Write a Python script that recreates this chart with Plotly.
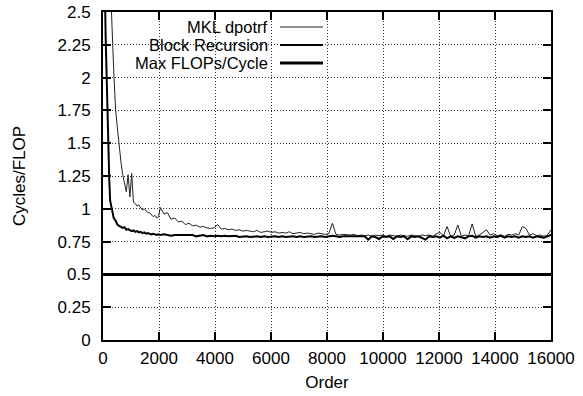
import plotly.graph_objects as go

# ---------------- data ----------------
orders = [
    32, 64, 96, 128, 160, 192, 224, 256,
    320, 384, 448, 512, 576, 640, 704, 768,
    832, 896, 960, 1024, 1088, 1152, 1216, 1280,
    1344, 1408, 1472, 1536, 1600, 1664, 1728, 1792,
    1856, 1920, 1984,
    2048, 2176, 2304, 2432, 2560, 2688, 2816, 2944,
    3072, 3200, 3328, 3456, 3584, 3712, 3840, 3968,
    4096, 4224, 4352, 4480, 4608, 4736, 4864, 4992,
    5120, 5248, 5376, 5504, 5632, 5760, 5888, 6016,
    6144, 6272, 6400, 6528, 6656, 6784, 6912, 7040,
    7168, 7296, 7424, 7552, 7680, 7808, 7936, 8064,
    8192, 8320, 8448, 8576, 8704, 8832, 8960, 9088,
    9216, 9344, 9472, 9600, 9728, 9856, 9984, 10112,
    10240, 10368, 10496, 10624, 10752, 10880, 11008, 11136,
    11264, 11392, 11520, 11648, 11776, 11904, 12032, 12160,
    12288, 12416, 12544, 12672, 12800, 12928, 13056, 13184,
    13312, 13440, 13568, 13696, 13824, 13952, 14080, 14208,
    14336, 14464, 14592, 14720, 14848, 14976, 15104, 15232,
    15360, 15488, 15616, 15744, 15872, 16000,
]

mkl_dpotrf = [
    14.0, 7.5, 5.2, 4.2, 3.6, 3.2, 2.95, 2.75,
    2.40, 2.05, 1.76, 1.62, 1.48, 1.36, 1.26, 1.19,
    1.13, 1.26, 1.09, 1.27, 1.05, 1.04, 1.02, 1.03,
    1.01, 0.99, 1.00, 0.98, 0.97, 0.97, 0.95, 0.94,
    0.95, 0.93, 0.94,
    1.01, 0.96, 0.97, 0.92, 0.93, 0.90, 0.905, 0.88,
    0.89, 0.87, 0.875, 0.86, 0.865, 0.855, 0.85, 0.855,
    0.88, 0.845, 0.85, 0.84, 0.845, 0.835, 0.84, 0.83,
    0.835, 0.83, 0.825, 0.835, 0.82, 0.825, 0.83, 0.82,
    0.825, 0.815, 0.82, 0.815, 0.825, 0.81, 0.815, 0.82,
    0.81, 0.815, 0.81, 0.805, 0.815, 0.81, 0.805, 0.81,
    0.89, 0.805, 0.80, 0.805, 0.80, 0.80, 0.805, 0.795,
    0.80, 0.795, 0.80, 0.79, 0.80, 0.795, 0.80, 0.79,
    0.80, 0.795, 0.79, 0.80, 0.795, 0.79, 0.80, 0.795,
    0.79, 0.80, 0.795, 0.80, 0.79, 0.81, 0.82, 0.795,
    0.865, 0.79, 0.80, 0.877, 0.79, 0.80, 0.795, 0.885,
    0.79, 0.80, 0.82, 0.84, 0.80, 0.81, 0.795, 0.80,
    0.79, 0.805, 0.80, 0.81, 0.80, 0.865, 0.85, 0.80,
    0.81, 0.795, 0.80, 0.79, 0.80, 0.84,
]

block_recursion = [
    5.5, 2.7, 2.3, 2.0, 1.7, 1.45, 1.22, 1.06,
    0.98, 0.93, 0.91, 0.88, 0.87, 0.86, 0.855, 0.86,
    0.84, 0.845, 0.835, 0.83, 0.835, 0.825, 0.83, 0.82,
    0.825, 0.815, 0.82, 0.81, 0.815, 0.81, 0.805, 0.81,
    0.805, 0.80, 0.805,
    0.80, 0.805, 0.80, 0.795, 0.80, 0.80, 0.795, 0.80,
    0.795, 0.80, 0.79, 0.795, 0.80, 0.79, 0.795, 0.79,
    0.795, 0.79, 0.795, 0.79, 0.79, 0.795, 0.785, 0.79,
    0.79, 0.785, 0.79, 0.79, 0.785, 0.79, 0.785, 0.79,
    0.79, 0.785, 0.79, 0.785, 0.79, 0.79, 0.785, 0.79,
    0.785, 0.79, 0.79, 0.785, 0.79, 0.79, 0.785, 0.79,
    0.795, 0.79, 0.785, 0.79, 0.79, 0.785, 0.79, 0.79,
    0.785, 0.79, 0.765, 0.79, 0.785, 0.77, 0.79, 0.785,
    0.79, 0.77, 0.79, 0.785, 0.79, 0.768, 0.79, 0.785,
    0.79, 0.775, 0.765, 0.79, 0.785, 0.79, 0.78, 0.795,
    0.775, 0.79, 0.778, 0.79, 0.785, 0.775, 0.79, 0.795,
    0.78, 0.79, 0.785, 0.79, 0.78, 0.79, 0.785, 0.795,
    0.78, 0.79, 0.785, 0.79, 0.78, 0.79, 0.785, 0.79,
    0.78, 0.79, 0.785, 0.78, 0.79, 0.80,
]

max_orders = [0, 16000]
max_flops_cycle = [0.5, 0.5]

y_tick_vals = [0, 0.25, 0.5, 0.75, 1, 1.25, 1.5, 1.75, 2, 2.25, 2.5]
y_tick_text = ["0", "0.25", "0.5", "0.75", "1", "1.25", "1.5", "1.75", "2", "2.25", "2.5"]
x_tick_vals = [0, 2000, 4000, 6000, 8000, 10000, 12000, 14000, 16000]
x_tick_text = ["0", "2000", "4000", "6000", "8000", "10000", "12000", "14000", "16000"]

series_names = ["MKL dpotrf", "Block Recursion", "Max FLOPs/Cycle"]
series_widths = [1, 2, 3]
series_colors = ["#222222", "#000000", "#000000"]

assert len(orders) == len(mkl_dpotrf) == len(block_recursion)

# ---------------- figure ----------------
FONT = "Liberation Sans, Arial, Helvetica, sans-serif"
FS = 17
W, H = 583, 396
ML, MR, MT, MB = 103, 32, 12, 56

fig = go.Figure()
fig.add_trace(go.Scatter(x=orders, y=mkl_dpotrf, mode="lines", name=series_names[0],
                         line=dict(color=series_colors[0], width=series_widths[0]), showlegend=False))
fig.add_trace(go.Scatter(x=orders, y=block_recursion, mode="lines", name=series_names[1],
                         line=dict(color=series_colors[1], width=series_widths[1]), showlegend=False))
fig.add_trace(go.Scatter(x=max_orders, y=max_flops_cycle, mode="lines", name=series_names[2],
                         line=dict(color=series_colors[2], width=series_widths[2]), showlegend=False))

pw = W - ML - MR
ph = H - MT - MB

def px2x(px):
    return (px - ML) / pw

def py2y(py):
    return (H - MB - py) / ph

# white key box hiding the grid behind the key (gnuplot style)
fig.add_shape(type="rect", xref="paper", yref="paper",
              x0=px2x(112), x1=px2x(335), y0=py2y(72), y1=1.0,
              fillcolor="white", line=dict(width=0), layer="between")

key_rows = [27, 45, 63]
for name, w, c, row in zip(series_names, series_widths, series_colors, key_rows):
    fig.add_annotation(xref="paper", yref="paper", x=px2x(269), y=py2y(row),
                       text=name, showarrow=False, xanchor="right", yanchor="middle",
                       borderpad=0, font=dict(family=FONT, size=16.5, color="black"))
    fig.add_shape(type="line", xref="paper", yref="paper",
                  x0=px2x(280), x1=px2x(323), y0=py2y(row), y1=py2y(row),
                  line=dict(color=c, width=w))

axis_common = dict(
    showline=True, linecolor="black", linewidth=2, mirror="allticks",
    ticks="inside", ticklen=8, tickwidth=1.5, tickcolor="black",
    showgrid=True, gridcolor="#333333", gridwidth=1, griddash="1px,2px",
    zeroline=False,
    tickfont=dict(family=FONT, size=FS, color="black"),
)

fig.update_xaxes(range=[0, 16000], tickvals=x_tick_vals, ticktext=x_tick_text,
                 ticklabelstandoff=2,
                 title=dict(text="Order", font=dict(family=FONT, size=FS, color="black"), standoff=9),
                 **axis_common)
fig.update_yaxes(range=[0, 2.5], tickvals=y_tick_vals, ticktext=y_tick_text,
                 ticklabelstandoff=7,
                 title=dict(text="Cycles/FLOP", font=dict(family=FONT, size=FS, color="black"), standoff=28),
                 **axis_common)

fig.update_layout(
    width=W, height=H,
    margin=dict(l=ML, r=MR, t=MT, b=MB, autoexpand=False),
    paper_bgcolor="white", plot_bgcolor="white",
    font=dict(family=FONT, size=FS, color="black"),
    showlegend=False,
)

fig.write_html("out.html")
